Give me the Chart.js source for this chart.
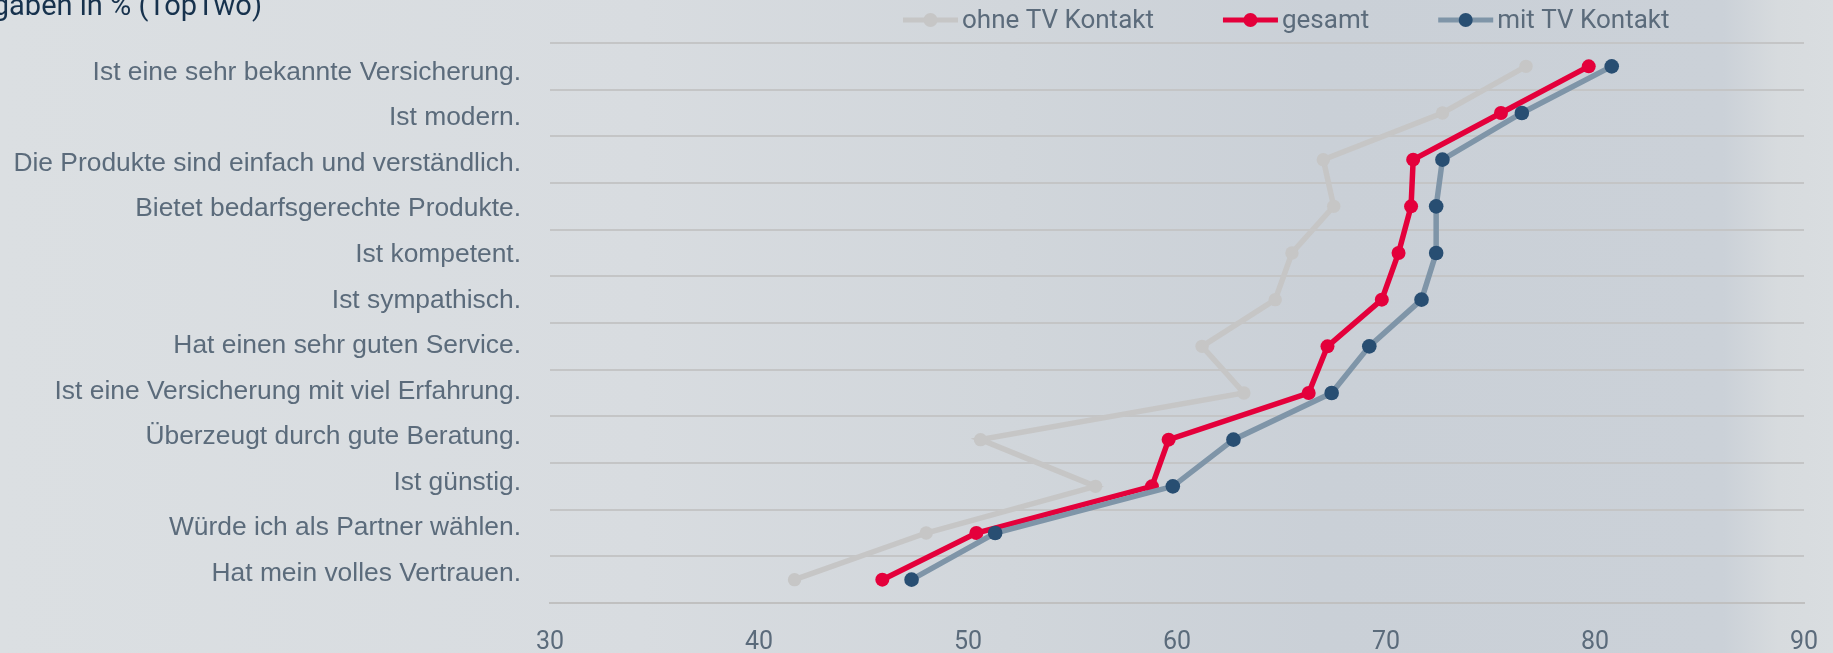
<!DOCTYPE html>
<html>
<head>
<meta charset="utf-8">
<script src="https://cdn.jsdelivr.net/npm/chart.js@4"></script>
<style>
  html, body { margin: 0; padding: 0; }
  body {
    width: 1833px; height: 653px; overflow: hidden;
    background: linear-gradient(to right, #dbdfe2 0%, #d8dce0 35%, #d1d6db 55%, #cad0d7 72%, #cbd1d8 94%, #d7dbde 97%, #d9dde0 100%);
  }
  canvas { display: block; }
</style>
</head>
<body>
<canvas id="chart" width="1833" height="653"></canvas>
<script>
// statements, top to bottom
const categories = [
  'Ist eine sehr bekannte Versicherung.',
  'Ist modern.',
  'Die Produkte sind einfach und verständlich.',
  'Bietet bedarfsgerechte Produkte.',
  'Ist kompetent.',
  'Ist sympathisch.',
  'Hat einen sehr guten Service.',
  'Ist eine Versicherung mit viel Erfahrung.',
  'Überzeugt durch gute Beratung.',
  'Ist günstig.',
  'Würde ich als Partner wählen.',
  'Hat mein volles Vertrauen.'
];
const ohneTV = [76.7, 72.7, 67.0, 67.5, 65.5, 64.7, 61.2, 63.2, 50.6, 56.1, 48.0, 41.7];
const gesamt = [79.7, 75.5, 71.3, 71.2, 70.6, 69.8, 67.2, 66.3, 59.6, 58.8, 50.4, 45.9];
const mitTV  = [80.8, 76.5, 72.7, 72.4, 72.4, 71.7, 69.2, 67.4, 62.7, 59.8, 51.3, 47.3];
const xMin = 30, xMax = 90, xStep = 10;
const titleText = 'Angaben in % (TopTwo)';

const textColor = '#5b6b7b';

// title (cut off at the left edge) + legend with line and dot
const extras = {
  id: 'extras',
  afterDraw(chart) {
    const ctx = chart.ctx;
    ctx.save();
    ctx.font = '29px Roboto';
    ctx.fillStyle = '#17324d';
    ctx.textAlign = 'right';
    ctx.textBaseline = 'alphabetic';
    ctx.fillText(titleText, 262, 15);

    // legend in the order shown in the picture
    const order = [2, 1, 0];
    let x = 903;
    const y = 20;
    ctx.font = '26px Roboto';
    ctx.textAlign = 'left';
    ctx.textBaseline = 'middle';
    order.forEach(i => {
      const ds = chart.data.datasets[i];
      ctx.strokeStyle = ds.borderColor;
      ctx.lineWidth = 5;
      ctx.beginPath();
      ctx.moveTo(x, y);
      ctx.lineTo(x + 55, y);
      ctx.stroke();
      ctx.fillStyle = ds.pointBackgroundColor;
      ctx.beginPath();
      ctx.arc(x + 27.5, y, 7, 0, Math.PI * 2);
      ctx.fill();
      ctx.fillStyle = textColor;
      ctx.fillText(ds.label, x + 59, y + 1);
      x += 59 + ctx.measureText(ds.label).width + 69;
    });
    ctx.restore();
  }
};

const noPad = s => { s.paddingLeft = 0; s.paddingRight = 0; s.paddingTop = 0; s.paddingBottom = 0; };

new Chart(document.getElementById('chart'), {
  type: 'line',
  data: {
    labels: categories,
    datasets: [
      {
        label: 'mit TV Kontakt',
        data: mitTV,
        borderColor: '#7f95a8',
        pointBackgroundColor: '#284e72',
        pointBorderWidth: 0,
        pointRadius: 7.3,
        borderWidth: 5.5,
        order: 0
      },
      {
        label: 'gesamt',
        data: gesamt,
        borderColor: '#e4003b',
        pointBackgroundColor: '#e4003b',
        pointBorderWidth: 0,
        pointRadius: 7,
        borderWidth: 5.5,
        order: 1
      },
      {
        label: 'ohne TV Kontakt',
        data: ohneTV,
        borderColor: '#c6c6c6',
        pointBackgroundColor: '#c6c6c6',
        pointBorderWidth: 0,
        pointRadius: 6.7,
        borderWidth: 5.5,
        order: 2
      }
    ]
  },
  options: {
    indexAxis: 'y',
    responsive: false,
    animation: false,
    devicePixelRatio: 1,
    layout: { padding: { top: 43, right: 29, left: 0, bottom: 0 } },
    plugins: {
      legend: { display: false },
      tooltip: { enabled: false }
    },
    scales: {
      x: {
        type: 'linear',
        position: 'bottom',
        min: xMin,
        max: xMax,
        ticks: {
          stepSize: xStep,
          color: textColor,
          font: { family: 'Roboto', size: 25 },
          padding: 25
        },
        grid: { display: false, drawTicks: false },
        border: { display: true, color: '#c0c0c0', width: 2 },
        afterFit: s => { s.height = 50; noPad(s); }
      },
      y: {
        type: 'category',
        position: 'left',
        offset: true,
        grid: { offset: true, color: '#c4c5c6', lineWidth: 2, drawTicks: false },
        border: { display: false },
        ticks: { display: false },
        afterFit: s => { s.width = 0; noPad(s); }
      },
      // statement labels sit on a slightly tighter spacing than the grid rows
      yl: {
        type: 'linear',
        position: 'left',
        reverse: true,
        min: -0.65,
        max: 11.65,
        afterBuildTicks: s => { s.ticks = categories.map((c, i) => ({ value: i })); },
        ticks: {
          color: textColor,
          font: { family: 'Liberation Sans', size: 26.4 },
          padding: 29,
          autoSkip: false,
          callback: v => categories[v]
        },
        grid: { display: false, drawTicks: false },
        border: { display: false },
        afterFit: s => { s.width = 550; noPad(s); }
      }
    }
  },
  plugins: [extras]
});
</script>
</body>
</html>
